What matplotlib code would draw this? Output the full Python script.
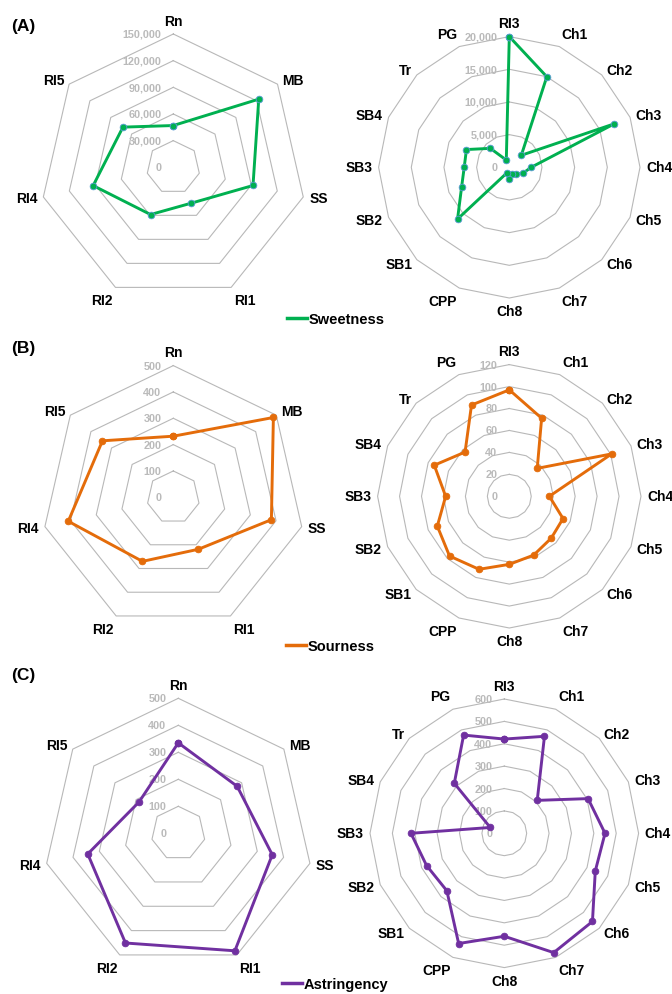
import numpy as np
import matplotlib
matplotlib.use("Agg")
import matplotlib.pyplot as plt
from matplotlib.lines import Line2D

plt.rcParams['font.family'] = ['Liberation Sans', 'DejaVu Sans']

# sample groups on the two kinds of radar
herbs = ["Rn", "MB", "SS", "RI1", "RI2", "RI4", "RI5"]
others = ["RI3", "Ch1", "Ch2", "Ch3", "Ch4", "Ch5", "Ch6", "Ch7", "Ch8",
          "CPP", "SB1", "SB2", "SB3", "SB4", "Tr", "PG"]

# taste values per group
sweet_herbs = [47000, 123000, 92000, 45000, 59000, 92500, 72500]
sweet_others = [20000, 15000, 2600, 17400, 3350, 2300, 1500, 1100, 1800,
                900, 11200, 7900, 6900, 7100, 4100, 1200]
sour_herbs = [232, 486, 382, 219, 270, 409, 344]
sour_others = [97, 77, 36, 101, 36.5, 53, 54, 58, 62,
               72, 77, 71, 58, 74, 57, 90]
astr_herbs = [335, 279, 357, 483, 451, 344, 186]
astr_others = [421, 469, 208, 405, 450, 440, 557, 577, 460,
               533, 363, 376, 417, 68, 316, 475]

# radial gridline values
sweet_rings_h = [0, 30000, 60000, 90000, 120000, 150000]
sweet_rings_o = [0, 5000, 10000, 15000, 20000]
sour_rings_h = [0, 100, 200, 300, 400, 500]
sour_rings_o = [0, 20, 40, 60, 80, 100, 120]
astr_rings_h = [0, 100, 200, 300, 400, 500]
astr_rings_o = [0, 100, 200, 300, 400, 500, 600]

GREEN = "#00B050"
ORANGE = "#E46C0A"
PURPLE = "#7030A0"
GRID = "#B8B8B8"
TICK = "#BABABA"

W, H = 672, 995


def radar(fig, cx, cy, R, cats, vals, rings, color, edge):
    '''
    one radar panel centred at (cx, cy) pixels with outer radius R
    '''
    ax = fig.add_axes([(cx - R) / W, 1 - (cy + R) / H, 2 * R / W, 2 * R / H],
                      projection='polar')
    ax.set_theta_zero_location('N')
    ax.set_theta_direction(-1)
    ax.set_ylim(0, rings[-1])
    ax.grid(False)
    ax.spines['polar'].set_visible(False)
    ax.set_xticks([])
    ax.set_yticks([])
    ax.patch.set_alpha(0)

    n = len(cats)
    theta = np.linspace(0, 2 * np.pi, n, endpoint=False)
    loop = np.append(theta, theta[0])

    for r in rings[1:]:  # straight-sided rings
        ax.plot(loop, [r] * (n + 1), color=GRID, lw=0.8, clip_on=False, zorder=1)

    for r in rings:
        ax.annotate(f"{r:,}", xy=(0, r), xytext=(-8.5, 0), textcoords='offset points',
                    ha='right', va='center', fontsize=7.8, fontweight='bold',
                    color=TICK, annotation_clip=False, zorder=2)

    for t, c in zip(theta, cats):
        s, co = np.sin(t), np.cos(t)
        ha = 'left' if s > 0.2 else ('right' if s < -0.2 else 'center')
        va = 'bottom' if co > 0.75 else ('top' if co < -0.75 else 'center')
        ax.annotate(c, xy=(t, rings[-1]), xytext=(4.5 * s, 4.5 * co),
                    textcoords='offset points', ha=ha, va=va, fontsize=10,
                    fontweight='bold', annotation_clip=False)

    v = np.append(vals, vals[0])
    ax.plot(loop, v, color=color, lw=2.1, marker='o', ms=4.8, mfc=color,
            mec=edge, mew=0.6, clip_on=False, zorder=3)
    return ax


def legend_entry(fig, label, color, x, y):
    handle = Line2D([], [], color=color, lw=2.5)
    fig.legend(handles=[handle], labels=[label], loc='center left',
               bbox_to_anchor=(x / W, 1 - y / H), frameon=False,
               prop={'weight': 'bold', 'size': 10.5}, handlelength=1.35,
               handletextpad=0.1, borderpad=0, borderaxespad=0)


fig = plt.figure(figsize=(W / 100, H / 100), dpi=100)

# (A) sweetness
radar(fig, 173.3, 168.3, 133.3, herbs, sweet_herbs, sweet_rings_h, GREEN, "#5B9BD5")
radar(fig, 509.3, 168.3, 130.7, others, sweet_others, sweet_rings_o, GREEN, "#5B9BD5")
legend_entry(fig, "Sweetness", GREEN, 287, 320)

# (B) sourness
radar(fig, 173.3, 498.3, 131.7, herbs, sour_herbs, sour_rings_h, ORANGE, ORANGE)
radar(fig, 509.3, 497.3, 131.7, others, sour_others, sour_rings_o, ORANGE, ORANGE)
legend_entry(fig, "Sourness", ORANGE, 286, 647)

# (C) astringency
radar(fig, 178.3, 834.3, 135.0, herbs, astr_herbs, astr_rings_h, PURPLE, PURPLE)
radar(fig, 504.3, 834.3, 134.3, others, astr_others, astr_rings_o, PURPLE, PURPLE)
legend_entry(fig, "Astringency", PURPLE, 282, 985)

for tag, y in [("(A)", 26), ("(B)", 349), ("(C)", 676)]:
    fig.text(11 / W, 1 - y / H, tag, fontsize=12.5, fontweight='bold', va='center')

fig.savefig("out.png", dpi=100, facecolor='white')
